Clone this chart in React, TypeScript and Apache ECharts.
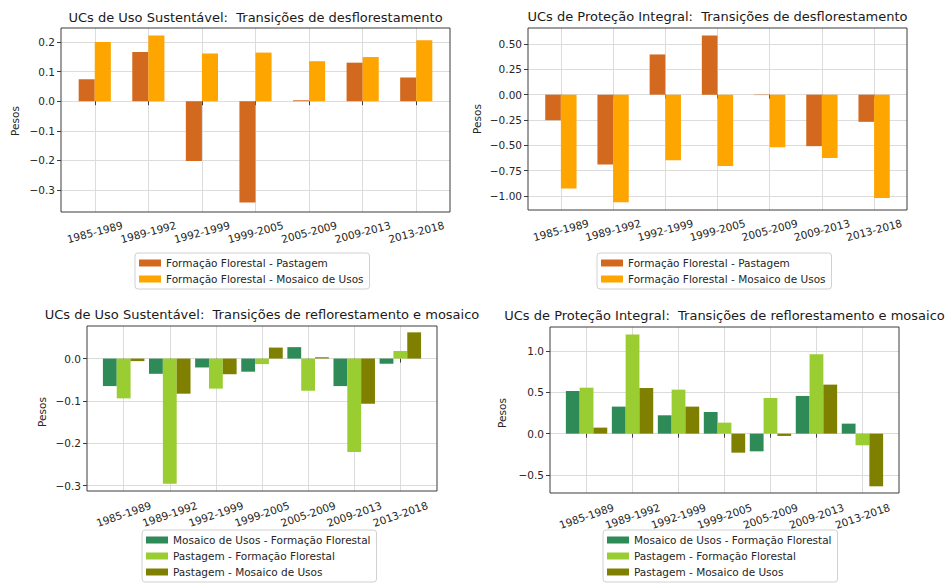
import React, { useEffect, useRef } from 'react';
import * as echarts from 'echarts';

// ---------- data ----------
const periods = ['1985-1989', '1989-1992', '1992-1999', '1999-2005', '2005-2009', '2009-2013', '2013-2018'];

const desfNames = ['Formação Florestal - Pastagem', 'Formação Florestal - Mosaico de Usos'];
const reflNames = ['Mosaico de Usos - Formação Florestal', 'Pastagem - Formação Florestal', 'Pastagem - Mosaico de Usos'];

const usoDesfPastagem = [0.074, 0.166, -0.202, -0.342, 0.003, 0.130, 0.080];
const usoDesfMosaico = [0.200, 0.222, 0.161, 0.164, 0.135, 0.149, 0.206];

const protDesfPastagem = [-0.252, -0.690, 0.397, 0.584, -0.004, -0.508, -0.268];
const protDesfMosaico = [-0.926, -1.061, -0.647, -0.703, -0.518, -0.624, -1.019];

const usoReflMosaicoFF = [-0.065, -0.036, -0.021, -0.031, 0.027, -0.065, -0.012];
const usoReflPastagemFF = [-0.094, -0.296, -0.071, -0.013, -0.076, -0.221, 0.018];
const usoReflPastagemMosaico = [-0.006, -0.083, -0.037, 0.026, 0.003, -0.107, 0.062];

const protReflMosaicoFF = [0.516, 0.327, 0.222, 0.262, -0.214, 0.456, 0.121];
const protReflPastagemFF = [0.556, 1.200, 0.532, 0.133, 0.431, 0.960, -0.141];
const protReflPastagemMosaico = [0.073, 0.552, 0.327, -0.230, -0.028, 0.593, -0.637];

const titles = [
  'UCs de Uso Sustentável:  Transições de desflorestamento',
  'UCs de Proteção Integral:  Transições de desflorestamento',
  'UCs de Uso Sustentável:  Transições de reflorestamento e mosaico',
  'UCs de Proteção Integral:  Transições de reflorestamento e mosaico',
];
const yLabel = 'Pesos';

// ---------- styles ----------
const FONT = '"DejaVu Sans", "Liberation Sans", sans-serif';
const TEXT = '#262626';
const FRAME = '#3c3c3c';
const GRIDC = '#dcdcdc';
const desfColors = ['#D2691E', '#FFA500'];
const reflColors = ['#2E8B57', '#9ACD32', '#808000'];

interface Panel {
  frame: [number, number, number, number]; // l, t, r, b
  yMin: number; yMax: number; step: number; dec: number;
  names: string[]; colors: string[]; values: number[][];
  legend: [number, number];
  ylab: [number, number];
  titleY: number;
  rot: number; labMargin: number;
}

const panels: Panel[] = [
  { frame: [61, 28, 450, 212], yMin: -0.374, yMax: 0.247, step: 0.1, dec: 1,
    names: desfNames, colors: desfColors, values: [usoDesfPastagem, usoDesfMosaico],
    legend: [135, 253], ylab: [15, 121], titleY: 17, rot: 15, labMargin: 20 },
  { frame: [528, 28, 907, 210], yMin: -1.138, yMax: 0.658, step: 0.25, dec: 2,
    names: desfNames, colors: desfColors, values: [protDesfPastagem, protDesfMosaico],
    legend: [597, 253], ylab: [477, 119], titleY: 16, rot: 15, labMargin: 20 },
  { frame: [87, 326, 437, 491], yMin: -0.313, yMax: 0.077, step: 0.1, dec: 1,
    names: reflNames, colors: reflColors, values: [usoReflMosaicoFF, usoReflPastagemFF, usoReflPastagemMosaico],
    legend: [142, 530], ylab: [42, 412], titleY: 314, rot: 19, labMargin: 23 },
  { frame: [550, 327, 899, 493], yMin: -0.718, yMax: 1.29, step: 0.5, dec: 1,
    names: reflNames, colors: reflColors, values: [protReflMosaicoFF, protReflPastagemFF, protReflPastagemMosaico],
    legend: [603, 530], ylab: [502, 413], titleY: 315, rot: 19, labMargin: 23 },
];

function buildOption() {
  const grid: any[] = [];
  const xAxis: any[] = [];
  const yAxis: any[] = [];
  const series: any[] = [];
  const legend: any[] = [];
  const graphic: any[] = [];

  panels.forEach((p, i) => {
    const [l, t, r, b] = p.frame;
    const w = r - l;
    const h = b - t;
    const n = p.values.length;
    const barW = 0.3;
    const halfSpan = (barW * n) / 2;
    const dataSpan = periods.length - 1 + barW * n;
    const margin = 0.05 * dataSpan;
    const total = dataSpan + 2 * margin;
    const inset = ((halfSpan + margin - 0.5) / total) * w;

    const oi = 2 * i;
    const ii = 2 * i + 1;
    grid.push({ left: l, top: t, width: w, height: h, show: true, borderColor: FRAME, borderWidth: 1, backgroundColor: 'transparent', containLabel: false, z: 3 });
    grid.push({ left: l + inset, top: t, width: w - 2 * inset, height: h, show: false, containLabel: false });

    xAxis.push({ gridIndex: oi, type: 'value', min: 0, max: 1, show: false });
    xAxis.push({
      gridIndex: ii, type: 'category', data: periods, boundaryGap: true,
      axisLine: { show: false },
      axisTick: { show: true, alignWithLabel: true, length: 4, lineStyle: { color: FRAME, width: 1 } },
      axisLabel: { interval: 0, rotate: p.rot, align: 'center', verticalAlign: 'middle', margin: p.labMargin, fontSize: 10.5, color: TEXT, fontFamily: FONT },
      splitLine: { show: true, alignWithLabel: true, lineStyle: { color: GRIDC, width: 1 } },
    });

    yAxis.push({
      gridIndex: oi, type: 'value', min: p.yMin, max: p.yMax, minInterval: p.step, maxInterval: p.step,
      axisLine: { show: false },
      axisTick: { show: true, length: 4, lineStyle: { color: FRAME, width: 1 } },
      axisLabel: {
        showMinLabel: false, showMaxLabel: false, margin: 6, fontSize: 10.5, color: TEXT, fontFamily: FONT,
        formatter: (v: number) => v.toFixed(p.dec).replace('-', '\u2212'),
      },
      splitLine: { show: true, showMinLine: false, showMaxLine: false, lineStyle: { color: GRIDC, width: 1 } },
    });
    yAxis.push({ gridIndex: ii, type: 'value', min: p.yMin, max: p.yMax, show: false, splitLine: { show: false } });

    p.values.forEach((vals, k) => {
      series.push({
        type: 'bar', name: p.names[k], xAxisIndex: ii, yAxisIndex: ii, data: vals,
        barWidth: '30%', barGap: '0%', itemStyle: { color: p.colors[k] },
        emphasis: { disabled: true }, z: 2,
      });
    });

    legend.push({
      orient: 'vertical', left: p.legend[0], top: p.legend[1], data: p.names,
      icon: 'rect', itemWidth: 22, itemHeight: 7, itemGap: 4,
      textStyle: { fontSize: 10.5, color: TEXT, fontFamily: FONT, lineHeight: 12 },
      borderColor: '#d0d0d0', borderWidth: 1, borderRadius: 3, padding: [4, 6, 4, 4],
      backgroundColor: '#ffffff', selectedMode: false,
    });

    graphic.push({
      type: 'text', x: (l + r) / 2, y: p.titleY,
      style: { text: titles[i], font: `13px ${FONT}`, fill: '#1a1a1a', align: 'center', verticalAlign: 'middle', textAlign: 'center', textVerticalAlign: 'middle' },
    });
    graphic.push({
      type: 'text', x: p.ylab[0], y: p.ylab[1], rotation: Math.PI / 2,
      style: { text: yLabel, font: `10.5px ${FONT}`, fill: TEXT, align: 'center', verticalAlign: 'middle', textAlign: 'center', textVerticalAlign: 'middle' },
    });
  });

  return {
    animation: false,
    backgroundColor: '#ffffff',
    grid, xAxis, yAxis, series, legend, graphic,
    tooltip: { show: false },
  };
}

export default function App() {
  const ref = useRef<HTMLDivElement>(null);
  useEffect(() => {
    document.body.style.margin = '0';
    if (!ref.current) return;
    const chart = echarts.init(ref.current, null, { renderer: 'svg' });
    chart.setOption(buildOption() as any);
    return () => chart.dispose();
  }, []);
  return <div ref={ref} style={{ position: 'absolute', left: 0, top: 0, width: 947, height: 586 }} />;
}
